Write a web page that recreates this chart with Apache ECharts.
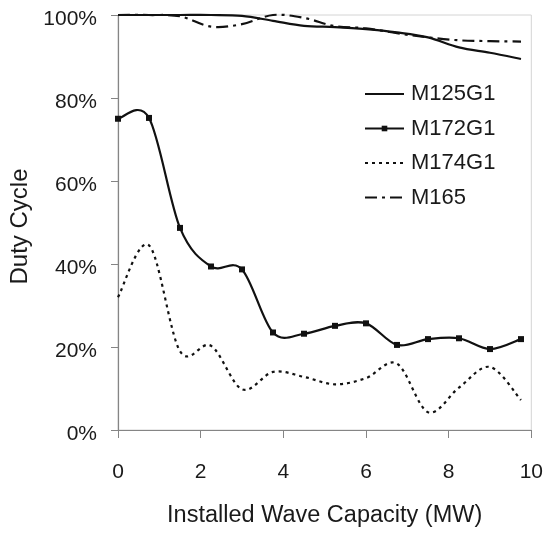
<!DOCTYPE html>
<html>
<head>
<meta charset="utf-8">
<script src="https://cdn.jsdelivr.net/npm/echarts@6/dist/echarts.min.js"></script>
<style>
  html, body { margin: 0; padding: 0; background: #fff; }
  #chart { width: 546px; height: 533px; }
</style>
</head>
<body>
<div id="chart"></div>
<script>
// Installed wave capacity (MW) at which each duty cycle was evaluated
var capacityMW = [0, 0.75, 1.5, 2.25, 3, 3.75, 4.5, 5.25, 6, 6.75, 7.5, 8.25, 9, 9.75];

// Duty cycle (%) per generator model
var dutyM125G1 = [100, 100, 100, 100, 99.8, 98.6, 97.4, 97.1, 96.6, 95.8, 94.6, 92.2, 90.9, 89.4];
var dutyM172G1 = [75, 75.2, 48.7, 39.4, 38.7, 23.5, 23.2, 25.1, 25.7, 20.5, 21.9, 22.1, 19.5, 21.9];
var dutyM174G1 = [32, 44.5, 19, 20.3, 9.8, 14, 12.8, 11, 12.5, 16, 4.3, 10.2, 15.2, 7.2];
var dutyM165   = [100, 100, 99.7, 97.2, 97.8, 100, 99.3, 97.3, 96.8, 95.6, 94.6, 93.9, 93.7, 93.6];

var seriesNames = ['M125G1', 'M172G1', 'M174G1', 'M165'];
var xTicks = { min: 0, max: 10, step: 2 };
var yTicks = { min: 0, max: 100, step: 20 };

function pairs(ys) {
  return capacityMW.map(function (x, i) { return [x, ys[i]]; });
}

var font = '"Liberation Sans", Arial, Helvetica, sans-serif';
var ink = '#111';

// Line styles for each model
var styles = {
  M125G1: { dash: null },
  M172G1: { dash: null },
  M174G1: { dash: [3, 4] },
  M165:   { dash: [12, 5, 3, 5] }
};

// Catmull-Rom smoothed curve through the series' points, mapped with the grid's scales
function smoothRenderer(dash) {
  return function (params, api) {
    if (params.dataIndexInside !== 0) return null;
    var n = params.dataInsideLength;
    var p = [];
    for (var i = 0; i < n; i++) {
      p.push(api.coord([api.value(0, i), api.value(1, i)]));
    }
    var d = 'M' + p[0][0] + ' ' + p[0][1];
    for (var k = 0; k < n - 1; k++) {
      var p0 = p[k - 1] || p[k];
      var p1 = p[k];
      var p2 = p[k + 1];
      var p3 = p[k + 2] || p[k + 1];
      var c1x = p1[0] + (p2[0] - p0[0]) / 6;
      var c1y = p1[1] + (p2[1] - p0[1]) / 6;
      var c2x = p2[0] - (p3[0] - p1[0]) / 6;
      var c2y = p2[1] - (p3[1] - p1[1]) / 6;
      d += ' C' + c1x + ' ' + c1y + ' ' + c2x + ' ' + c2y + ' ' + p2[0] + ' ' + p2[1];
    }
    return {
      type: 'path',
      shape: { pathData: d },
      style: { fill: null, stroke: ink, lineWidth: 2.2, lineDash: dash, lineCap: 'butt', lineJoin: 'round' },
      silent: true
    };
  };
}

var dataByName = { M125G1: dutyM125G1, M172G1: dutyM172G1, M174G1: dutyM174G1, M165: dutyM165 };

var series = [];
// Marker series (also supply the legend entries)
seriesNames.forEach(function (name) {
  var hasMarker = name === 'M172G1';
  series.push({
    name: name, type: 'line', z: 3,
    symbol: hasMarker ? 'rect' : 'none', symbolSize: 6, showSymbol: hasMarker,
    data: pairs(dataByName[name]),
    lineStyle: { color: ink, width: 2.2, type: styles[name].dash || 'solid', opacity: 0 },
    itemStyle: { color: ink }
  });
});
// Smoothed curves
seriesNames.forEach(function (name) {
  series.push({
    name: name, type: 'custom', z: 2,
    renderItem: smoothRenderer(styles[name].dash),
    encode: { x: 0, y: 1 },
    data: pairs(dataByName[name])
  });
});

var chart = echarts.init(document.getElementById('chart'), null, { renderer: 'canvas' });

chart.setOption({
  animation: false,
  backgroundColor: '#fff',
  grid: {
    left: 118, right: 14, top: 15, bottom: 99,
    show: true, borderColor: '#d4d4d4', borderWidth: 1, backgroundColor: 'transparent'
  },
  legend: {
    orient: 'vertical',
    left: 364, top: 83, padding: 0,
    itemWidth: 39, itemHeight: 7,
    itemGap: 12.5,
    data: seriesNames.map(function (name) {
      return {
        name: name,
        itemStyle: { opacity: name === 'M172G1' ? 1 : 0 },
        lineStyle: { opacity: 1, width: 2, type: styles[name].dash || 'solid', color: ink }
      };
    }),
    textStyle: { fontFamily: font, fontSize: 22, color: '#1a1a1a', padding: [0, 0, 0, 2] }
  },
  xAxis: {
    type: 'value',
    min: xTicks.min, max: xTicks.max, interval: xTicks.step,
    name: 'Installed Wave Capacity (MW)',
    nameLocation: 'middle', nameGap: 74,
    nameTextStyle: { fontFamily: font, fontSize: 23.5, color: '#1a1a1a' },
    axisLine: { lineStyle: { color: '#858585', width: 1.2 } },
    axisTick: { show: true, length: 8, lineStyle: { color: '#858585' } },
    axisLabel: { fontFamily: font, fontSize: 21, color: '#1a1a1a', margin: 32 },
    splitLine: { show: false }
  },
  yAxis: {
    type: 'value',
    min: yTicks.min, max: yTicks.max, interval: yTicks.step,
    name: 'Duty Cycle',
    nameLocation: 'middle', nameGap: 86,
    nameTextStyle: { fontFamily: font, fontSize: 24, color: '#1a1a1a', padding: [0, 8, 0, 0] },
    axisLine: { show: true, lineStyle: { color: '#858585', width: 1.2 } },
    axisTick: { show: true, length: 7, lineStyle: { color: '#858585' } },
    axisLabel: {
      fontFamily: font, fontSize: 21, color: '#1a1a1a', margin: 21,
      verticalAlign: 'top', lineHeight: 8, formatter: '{value}%'
    },
    splitLine: { show: false }
  },
  series: series
});
</script>
</body>
</html>
